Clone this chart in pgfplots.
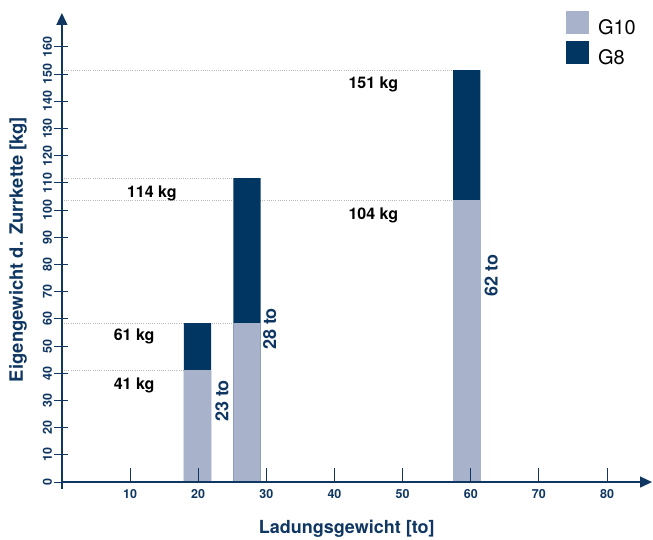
\documentclass[border=0pt]{standalone}
\usepackage{fontspec}
\setmainfont{TeX Gyre Heros}
\usepackage{pgfplots}
\pgfplotsset{compat=1.18}
\usetikzlibrary{arrows.meta}
\definecolor{navy}{RGB}{15,55,98}
\definecolor{gten}{RGB}{168,178,203}
\definecolor{geight}{RGB}{0,54,97}
\definecolor{dotgray}{RGB}{185,185,185}
\newcommand{\tickfont}{\fontsize{12.5}{13}\selectfont\bfseries}
\begin{document}
\begin{tikzpicture}
\begin{axis}[
  name=ax,
  scale only axis, width=590.1pt, height=476.1pt,
  xmin=0, xmax=86.6, ymin=-2.6, ymax=172.5,
  axis lines=middle,
  axis line style={navy, line width=1.3pt, -{Triangle[length=12pt,width=11pt]}},
  axis on top,
  clip=false,
  hide obscured x ticks=false, hide obscured y ticks=false,
  xtick={10,20,...,80}, ytick={0,10,...,160},
  tick align=inside, major tick length=14pt,
  tick style={navy, line width=1pt},
  ytick style={xshift=-8pt},
  /pgf/number format/assume math mode=true,
  yticklabel style={font=\tickfont, text=navy, xshift=-10pt, rotate=90, anchor=base},
  xticklabel style={font=\tickfont, text=navy, yshift=-16pt, anchor=base},
  every axis x label/.style={at={(axis cs:41.8,-18.76)}, anchor=base, font=\fontsize{18}{18}\selectfont\bfseries, text=navy},
  every axis y label/.style={at={(axis cs:-5.71,85.5)}, rotate=90, anchor=base, font=\fontsize{18.4}{18}\selectfont\bfseries, text=navy},
  xlabel={Ladungsgewicht [to]},
  ylabel={Eigengewicht d. Zurrkette [kg]},
  reverse legend,
  legend cell align=left,
  legend style={at={(rel axis cs:0.8543,1.0042)}, anchor=north west, draw=none, fill=none,
    inner sep=0pt, outer sep=0pt, row sep=5pt,
    font=\fontsize{20}{20}\selectfont, text=black,
    nodes={inner sep=0pt, outer sep=0pt},
    /tikz/every odd column/.append style={column sep=9pt}},
]
% dotted reference lines
\addplot[dotgray, line width=0.7pt, dash pattern=on 1pt off 1.2pt, forget plot] coordinates {(0,151.5) (57.4,151.5)};
\addplot[dotgray, line width=0.7pt, dash pattern=on 1pt off 1.2pt, forget plot] coordinates {(0,111.8) (25.1,111.8)};
\addplot[dotgray, line width=0.7pt, dash pattern=on 1pt off 1.2pt, forget plot] coordinates {(0,103.7) (57.4,103.7)};
\addplot[dotgray, line width=0.7pt, dash pattern=on 1pt off 1.2pt, forget plot] coordinates {(0,58.4) (25.1,58.4)};
\addplot[dotgray, line width=0.7pt, dash pattern=on 1pt off 1.2pt, forget plot] coordinates {(0,41.2) (17.9,41.2)};
% G8 (total height)
\addplot[ybar, bar width=4, bar shift=0pt, fill=geight, draw=none,
  legend image code/.code={\fill[geight] (0pt,-6pt) rectangle (23pt,17pt);}]
  coordinates {(19.9,58.4) (27.15,111.8) (59.4,151.5)};
% G10
\addplot[ybar, bar width=4, bar shift=0pt, fill=gten, draw=none,
  legend image code/.code={\fill[gten] (0pt,-6pt) rectangle (23pt,17pt);}]
  coordinates {(19.9,41.2) (27.15,58.4) (59.4,103.7)};
\legend{G8, G10}
% value labels
\node[font=\fontsize{16}{16}\selectfont\bfseries, anchor=base] at (axis cs:45.7,144.6) {151 kg};
\node[font=\fontsize{16}{16}\selectfont\bfseries, anchor=base] at (axis cs:45.7,96.7) {104 kg};
\node[font=\fontsize{16}{16}\selectfont\bfseries, anchor=base] at (axis cs:13.2,104.5) {114 kg};
\node[font=\fontsize{16}{16}\selectfont\bfseries, anchor=base] at (axis cs:10.6,51.9) {61 kg};
\node[font=\fontsize{16}{16}\selectfont\bfseries, anchor=base] at (axis cs:10.6,34.2) {41 kg};
\node[rotate=90, font=\fontsize{18}{18}\selectfont\bfseries, text=navy] at (axis cs:23.5,29.8) {23 to};
\node[rotate=90, font=\fontsize{18}{18}\selectfont\bfseries, text=navy] at (axis cs:30.5,56.3) {28 to};
\node[rotate=90, font=\fontsize{18}{18}\selectfont\bfseries, text=navy] at (axis cs:63.0,75.8) {62 to};
\end{axis}
\pgfresetboundingbox
\path[use as bounding box] ([shift={(-61.9pt,-49.9pt)}]ax.south west) rectangle ([shift={(591.1pt,489.1pt)}]ax.south west);
\end{tikzpicture}
\end{document}
